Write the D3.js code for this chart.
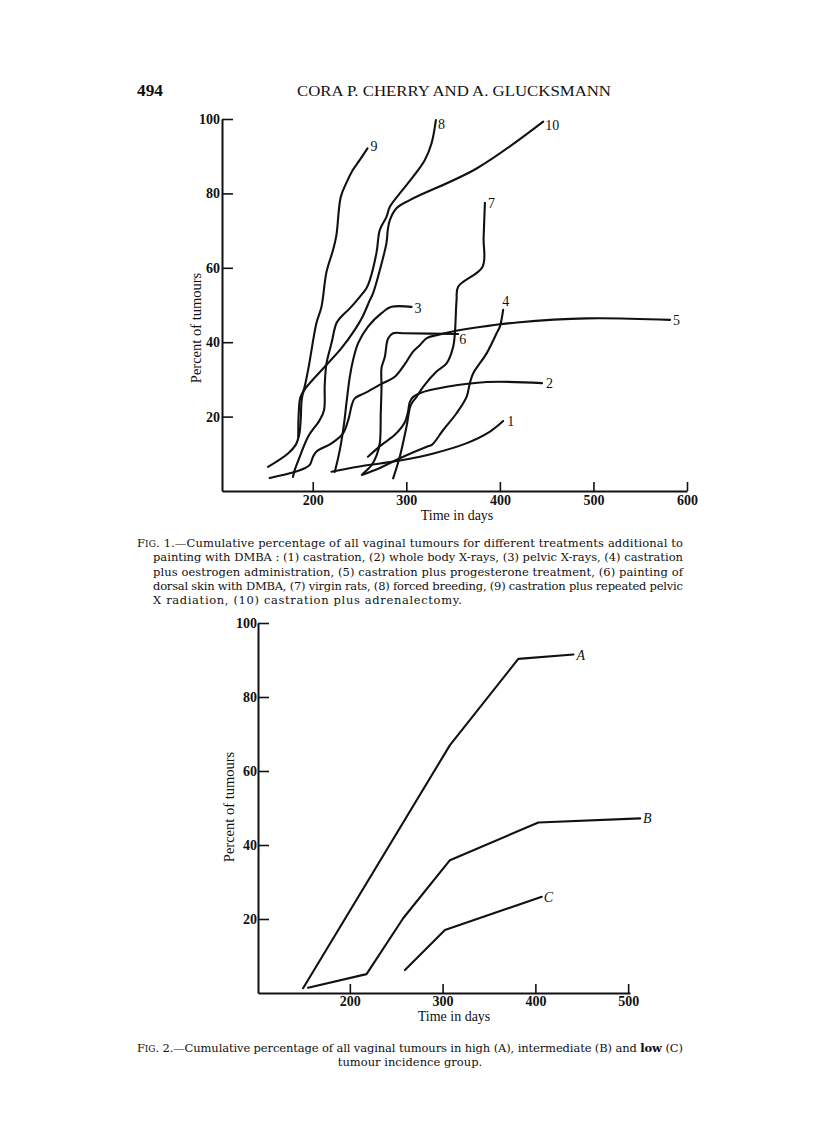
<!DOCTYPE html>
<html>
<head>
<meta charset="utf-8">
<script src="https://cdn.jsdelivr.net/npm/d3@7"></script>
<style>
  body { margin: 0; background: #fff; }
  svg { display: block; font-family: "Liberation Serif", "DejaVu Serif", serif; }
  text { fill: #111; }
</style>
</head>
<body>
<svg id="page" width="816" height="1136"></svg>
<script>
// Fig. 1 — [days, percent], one list per treatment
const curve1 = [[220, 5.2], [250, 6.6], [272, 7.4], [293, 8.2], [329, 10.1], [364, 12.8], [389, 15.9], [403.5, 18.8]];
const curve2 = [[259, 9.2], [273.5, 12.4], [287.7, 15.1], [298.4, 18.5], [301.6, 21.0], [303.7, 23.9], [307.3, 25.3], [314.4, 26.3], [343.3, 28.0], [386, 29.3], [445, 29.0]];
const curve3 = [[223.5, 5.1], [228.9, 11.0], [233.5, 18.2], [236, 23.6], [239.6, 30.7], [243.1, 35.2], [248.4, 39.7], [259.1, 44.2], [273.5, 47.8], [284.2, 49.5], [305.6, 49.5]];
const curve4 = [[252.4, 4.3], [271.7, 6.2], [293, 8.8], [321.9, 11.9], [327.3, 12.4], [339.4, 16.4], [353.7, 20.9], [364.4, 25.3], [367.9, 29.0], [371.4, 31.6], [385.8, 37.0], [396.5, 42.4], [400, 44.2], [403.5, 48.7]];
const curve5 = [[154, 3.5], [180.7, 5.1], [191.4, 6.1], [196.8, 7.0], [200.3, 9.2], [204, 10.6], [220, 12.8], [232.4, 15.5], [238.5, 19.6], [241.7, 23.1], [244.9, 24.9], [255.6, 26.3], [273.5, 28.8], [287.7, 30.7], [298.4, 34.1], [307, 37.4], [314.4, 39.2], [321.9, 41.1], [332.6, 41.9], [351.9, 43.0], [378.6, 44.1], [418.2, 45.3], [493, 46.4], [581.8, 46.0]];
const curve6 = [[253.5, 4.6], [263.1, 7.0], [268.4, 9.7], [271.7, 12.9], [272.7, 21.0], [273.5, 28.0], [273.5, 33.1], [277, 36.0], [280.5, 41.0], [285.9, 42.4], [298.4, 42.4], [355.4, 42.2]];
const curve7 = [[285.9, 3.4], [293, 9.2], [300.2, 17.3], [304.8, 23.1], [310.9, 25.3], [318, 28.0], [332.3, 32.1], [343, 34.3], [350.1, 38.8], [351.9, 42.4], [353.7, 51.3], [355.4, 54.9], [381.5, 60.3], [382.6, 68], [384, 77.5]];
const curve8 = [[178.9, 3.8], [180.7, 5.6], [186.1, 9.2], [195, 14.6], [207.5, 19.1], [212.1, 21.8], [212.8, 28.5], [214.7, 34.3], [220, 39.7], [225.3, 45.1], [230.7, 46.9], [239.6, 49.1], [250.3, 52.2], [257.4, 54.5], [261, 56.7], [268.1, 64.0], [271.7, 70.2], [278.8, 73.7], [282.4, 76.4], [293, 80.0], [307.3, 84.5], [319.8, 89.0], [327, 93.5], [331.6, 99.7]];
const curve9 = [[184.5, 14.5], [185, 21.0], [186.6, 25.0], [190.4, 27.2], [195, 32.5], [204, 45.2], [209.3, 49.5], [214.7, 58.9], [221.7, 64.8], [225.3, 68.8], [229.9, 79.0], [236.4, 83.1], [242.8, 86.3], [250.3, 89.0], [258.5, 92.1]];
const curve10 = [[152.2, 6.5], [173.6, 10.1], [181.8, 12.4], [185.5, 15.1], [187.1, 19.1], [188.2, 24.5], [190.4, 26.9], [196.8, 29.0], [212.8, 33.4], [230.7, 38.4], [244.9, 43.3], [253.5, 47.0], [261, 51.3], [264.5, 53.2], [271.7, 59.4], [278.8, 66.7], [280.2, 70.2], [282.4, 72.8], [289.5, 76.0], [303.7, 78.2], [375.1, 86.7], [446.3, 99.3]];

const fig1Labels = ['1', '2', '3', '4', '5', '6', '7', '8', '9', '10'];
const fig1XTicks = [200, 300, 400, 500, 600];
const fig1YTicks = [20, 40, 60, 80, 100];

// Fig. 2 — incidence groups
const groupA = [[149.6, 1.3], [307.9, 67.0], [381.6, 90.3], [441, 91.5]];
const groupB = [[155, 1.4], [218, 5.1], [257.5, 20.2], [307.9, 35.9], [403.2, 46.1], [512.9, 47.2]];
const groupC = [[259.4, 6.2], [302.5, 17.0], [406.9, 26.0]];

const fig2Labels = ['A', 'B', 'C'];
const fig2XTicks = [200, 300, 400, 500];
const fig2YTicks = [20, 40, 60, 80, 100];

const captionOne = [
  'painting with DMBA :  (1) castration, (2) whole body X-rays, (3) pelvic X-rays, (4) castration',
  'plus oestrogen administration, (5) castration plus progesterone treatment, (6) painting of',
  'dorsal skin with DMBA, (7) virgin rats, (8) forced breeding, (9) castration plus repeated pelvic',
  'X radiation, (10) castration plus adrenalectomy.',
];

// label placement relative to each line's free end (dx, dy)
const LABEL_OFF = {
  '1': [4, 5], '2': [4, 5], '3': [3, 6], '4': [-1, -4], '5': [3, 5],
  '6': [1, 10], '7': [3, 5], '8': [2, 9], '9': [3, 3], '10': [2, 8],
  'A': [3, 6], 'B': [3, 5], 'C': [2, 5],
};

const CAP_FONT = '"DejaVu Serif", "Liberation Serif", serif';
const svg = d3.select('#page');

// running head
svg.append('text').attr('x', 137).attr('y', 96)
  .attr('font-size', 16).attr('font-weight', 700)
  .attr('textLength', 26).attr('lengthAdjust', 'spacingAndGlyphs').text('494');
svg.append('text').attr('x', 297).attr('y', 96)
  .attr('font-size', 14).attr('textLength', 314).attr('lengthAdjust', 'spacingAndGlyphs')
  .text('CORA P. CHERRY AND A. GLUCKSMANN');

function drawPanel(opts) {
  const x = d3.scaleLinear().domain(opts.xDomain).range(opts.xRange);
  const y = d3.scaleLinear().domain([0, 100]).range(opts.yRange);
  const g = svg.append('g');

  const xAxis = d3.axisBottom(x).tickValues(opts.xTicks)
    .tickSizeInner(-9).tickSizeOuter(0).tickPadding(opts.xPad);
  const gx = g.append('g').attr('transform', `translate(0,${y(0)})`).call(xAxis);

  const yAxis = d3.axisLeft(y).tickValues(opts.yTicks)
    .tickSizeInner(-11).tickSizeOuter(0).tickPadding(opts.yPad);
  const gy = g.append('g').attr('transform', `translate(${x(opts.xDomain[0])},0)`).call(yAxis);

  for (const a of [gx, gy]) {
    a.attr('font-family', null);
    a.select('.domain').attr('stroke', '#111').attr('stroke-width', 2);
    a.selectAll('.tick line').attr('stroke', '#111').attr('stroke-width', 1.6);
    a.selectAll('.tick text').attr('fill', '#111')
      .style('font-family', '"Liberation Serif", serif')
      .attr('font-size', 14).attr('font-weight', 700);
  }

  g.append('text')
    .attr('transform', `translate(${opts.yTitle[0]},${opts.yTitle[1]}) rotate(-90)`)
    .attr('text-anchor', 'middle').attr('font-size', 14.5).text('Percent of tumours');
  g.append('text').attr('x', opts.xTitle[0]).attr('y', opts.xTitle[1])
    .attr('text-anchor', 'middle').attr('font-size', 14).text('Time in days');

  const line = d3.line().x(d => x(d[0])).y(d => y(d[1])).curve(opts.curve);

  g.append('g').selectAll('path').data(opts.series).join('path')
    .attr('d', d => line(d.pts))
    .attr('fill', 'none').attr('stroke', '#111').attr('stroke-width', 2.1)
    .attr('stroke-linejoin', 'round').attr('stroke-linecap', 'round');

  g.append('g').selectAll('text').data(opts.series).join('text')
    .attr('x', d => x(d.pts[d.pts.length - 1][0]) + LABEL_OFF[d.label][0])
    .attr('y', d => y(d.pts[d.pts.length - 1][1]) + LABEL_OFF[d.label][1])
    .attr('font-size', 14)
    .attr('font-style', opts.italic ? 'italic' : null)
    .text(d => d.label);
}

drawPanel({
  xDomain: [103, 600], xRange: [222, 687], yRange: [491, 119],
  xTicks: fig1XTicks, yTicks: fig1YTicks, xPad: 4, yPad: 2,
  yTitle: [201, 328], xTitle: [457, 520],
  curve: d3.curveCatmullRom.alpha(0.5),
  series: [curve1, curve2, curve3, curve4, curve5, curve6, curve7, curve8, curve9, curve10]
    .map((pts, i) => ({ label: fig1Labels[i], pts })),
});

drawPanel({
  xDomain: [101, 502], xRange: [258, 630], yRange: [993, 623],
  xTicks: fig2XTicks, yTicks: fig2YTicks, xPad: 3, yPad: 1,
  yTitle: [234, 807], xTitle: [454, 1021],
  curve: d3.curveLinear, italic: true,
  series: [groupA, groupB, groupC].map((pts, i) => ({ label: fig2Labels[i], pts })),
});

// captions
function figLead(num, y, width, rest) {
  const tx = svg.append('text').attr('x', 137).attr('y', y)
    .style('font-family', CAP_FONT).attr('font-size', 11.5)
    .attr('textLength', width).attr('lengthAdjust', 'spacing');
  tx.append('tspan').text('F');
  tx.append('tspan').attr('font-size', 9).text('IG');
  tx.append('tspan').text(`. ${num}.—` + rest[0]);
  if (rest.length > 1) {
    tx.append('tspan').attr('font-weight', 700).text(rest[1]);
    tx.append('tspan').text(rest[2]);
  }
  return tx;
}

figLead(1, 547, 546, ['Cumulative percentage of all vaginal tumours for different treatments additional to']);
captionOne.forEach((s, i) => {
  const last = i === captionOne.length - 1;
  svg.append('text').attr('x', 153).attr('y', 561.3 + i * 14.3)
    .style('font-family', CAP_FONT).attr('font-size', 11.5)
    .attr('textLength', last ? 309 : 530).attr('lengthAdjust', 'spacing').text(s);
});

figLead(2, 1052, 546, ['Cumulative percentage of all vaginal tumours in high (A), intermediate (B) and ', 'low', ' (C)']);
svg.append('text').attr('x', 410).attr('y', 1066)
  .style('font-family', CAP_FONT).attr('font-size', 11.5)
  .attr('text-anchor', 'middle').text('tumour incidence group.');
</script>
</body>
</html>
